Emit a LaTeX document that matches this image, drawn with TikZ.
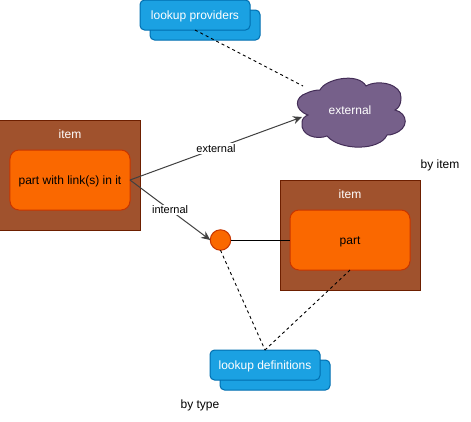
\documentclass[tikz,border=0pt]{standalone}
\usepackage{fontspec}
\setmainfont{Liberation Sans}
\definecolor{brownfill}{HTML}{A0522D}
\definecolor{brownline}{HTML}{6D1F00}
\definecolor{orangefill}{HTML}{FA6800}
\definecolor{orangeline}{HTML}{C73500}
\definecolor{bluefill}{HTML}{1BA1E2}
\definecolor{blueline}{HTML}{006EAF}
\definecolor{purplefill}{HTML}{76608A}
\definecolor{purpleline}{HTML}{432D57}
\tikzset{
  base/.style={inner sep=0pt,outer sep=0pt,font=\fontsize{12bp}{14bp}\selectfont},
  itembox/.style={base,draw=brownline,fill=brownfill,line width=1bp,minimum width=140bp,minimum height=110bp},
  partbox/.style={base,draw=orangeline,fill=orangefill,line width=1bp,rounded corners=9bp,minimum width=120bp,minimum height=60bp,text=black,text height=10.5bp,text depth=2bp},
  stackbox/.style={base,draw=blueline,fill=bluefill,line width=1bp,rounded corners=4.5bp,minimum width=110bp,minimum height=30bp,text=white,text height=10.5bp,text depth=2bp},
  hub/.style={base,circle,draw=orangeline,fill=orangefill,line width=1bp,minimum size=20.5bp},
  lbl/.style={base,text=black},
  itemtitle/.style={base,text=white},
  conn/.style={line width=1bp,draw=black},
  link/.style={line width=1bp,draw=black!75,-{Stealth[length=9bp,width=8bp]}},
  lookup/.style={line width=0.9bp,draw=black,dash pattern=on 3bp off 3bp},
  edgelbl/.style={base,fill=white,inner xsep=1bp,inner ysep=1bp,text=black,font=\fontsize{11bp}{13bp}\selectfont}
}
\usetikzlibrary{arrows.meta}
\begin{document}
\begin{tikzpicture}[x=1bp,y=-1bp]
\useasboundingbox (0,0) rectangle (471,421);
% stacks
\node[stackbox] (provback) at (205,25) {};
\node[stackbox] (prov) at (195,15) {lookup providers};
\node[stackbox] (defback) at (275,375) {};
\node[stackbox] (defs) at (265,365) {lookup definitions};
% items
\node[itembox] (item1) at (70,175) {};
\node[itemtitle] (item1t) at (70,134.5) {item};
\node[partbox] (part1) at (70,180) {part with link(s) in it};
\node[itembox] (item2) at (350,235) {};
\node[itemtitle] (item2t) at (350,194.5) {item};
\node[partbox] (part2) at (350,240) {part};
\node[hub] (hub) at (220.5,240) {};
% cloud
\draw[draw=purpleline,fill=purplefill,line width=1bp]
  (320,90) .. controls (325,79) and (358,72) .. (366,86)
  .. controls (378,79) and (402,84) .. (401,98)
  .. controls (401,104) and (399,108) .. (395,110)
  .. controls (408,113) and (410,129) .. (393,134)
  .. controls (391,135) and (389,135) .. (387,135)
  .. controls (380,151) and (340,151) .. (327,136)
  .. controls (317,140) and (300,136) .. (302,122)
  .. controls (302,119) and (305,116) .. (308,115)
  .. controls (294,110) and (294,97) .. (307,93)
  .. controls (311,91) and (316,90) .. (320,90) -- cycle;
\node[base,text=white] (cloud) at (350,110) {external};
\coordinate (cloudtop) at (303,86);
\coordinate (cloudleft) at (302,117);
% connectors
\draw[lookup] (prov.south) -- (cloudtop);
\draw[link] (part1.east) -- (cloudleft) node[edgelbl,pos=0.5] (extlbl) {external};
\draw[link] (part1.east) -- (hub.west) node[edgelbl,pos=0.5] (intlbl) {internal};
\draw[conn] (hub.east) -- (part2.west);
\draw[lookup] (hub.south) -- (defs.north);
\draw[lookup] (part2.south) -- (defs.north);
% free labels
\node[lbl] (byitem) at (440,165) {by item};
\node[lbl] (bytype) at (200,405) {by type};
\end{tikzpicture}
\end{document}
